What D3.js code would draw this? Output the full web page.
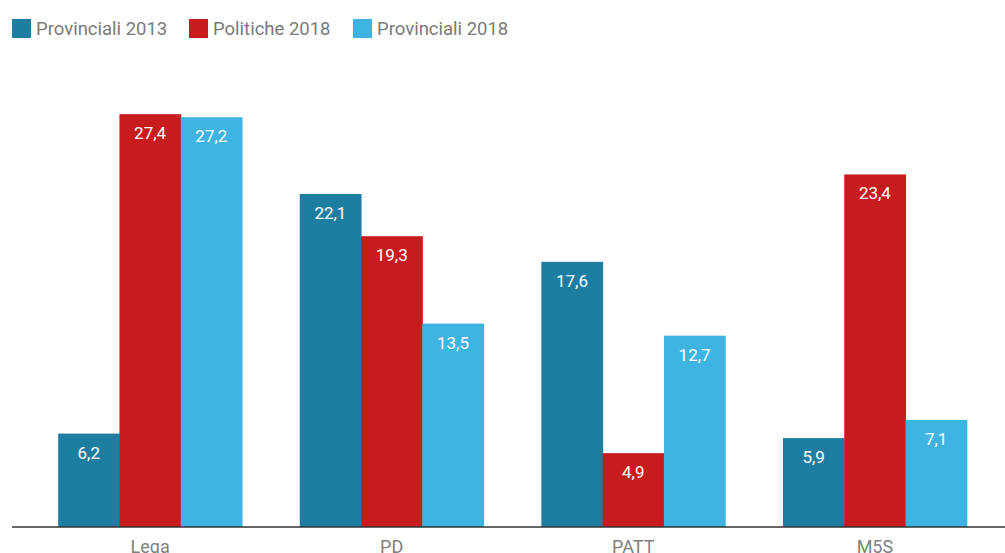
<!DOCTYPE html>
<html>
<head>
<meta charset="utf-8">
<script src="https://cdn.jsdelivr.net/npm/d3@7"></script>
<style>
  body { margin: 0; background: #fff; }
  svg { display: block; font-family: Roboto, "Open Sans", sans-serif; }
</style>
</head>
<body>
<svg id="chart"></svg>
<script>
const parties = ["Lega", "PD", "PATT", "M5S"];
const seriesNames = ["Provinciali 2013", "Politiche 2018", "Provinciali 2018"];
const provinciali2013 = [6.2, 22.1, 17.6, 5.9];
const politiche2018 = [27.4, 19.3, 4.9, 23.4];
const provinciali2018 = [27.2, 13.5, 12.7, 7.1];
const colors = ["#1e7ea1", "#c81b1e", "#3fb4e2"];

const w = 1005, h = 553;
const baseY = 527;

const svg = d3.select("#chart").attr("width", w).attr("height", h);

const series = [provinciali2013, politiche2018, provinciali2018];

const x = d3.scaleBand().domain(parties).range([34, 991]).paddingInner(0.239).paddingOuter(0.1);
const xs = d3.scaleBand().domain(seriesNames).range([0, x.bandwidth()]);
const y = d3.scaleLinear().domain([0, 30]).range([baseY, baseY - 452]);

const fmt = v => d3.format(".1f")(v).replace(".", ",");

const groups = svg.append("g").selectAll("g")
  .data(parties)
  .join("g")
  .attr("transform", d => `translate(${x(d)},0)`);

const cells = (p, i) => series.map((s, j) => ({ name: seriesNames[j], v: s[i], j }));

groups.selectAll("rect")
  .data(cells)
  .join("rect")
  .attr("x", d => xs(d.name))
  .attr("y", d => y(d.v))
  .attr("width", xs.bandwidth() + 0.5)
  .attr("height", d => baseY - y(d.v))
  .attr("fill", d => colors[d.j]);

groups.selectAll("text")
  .data(cells)
  .join("text")
  .attr("x", d => xs(d.name) + xs.bandwidth() / 2)
  .attr("y", d => y(d.v) + 25)
  .attr("text-anchor", "middle")
  .attr("fill", "#fff")
  .attr("font-size", 17)
  .attr("font-weight", 400)
  .text(d => fmt(d.v));

// axis
const axis = svg.append("g")
  .attr("transform", `translate(0,${baseY})`)
  .call(d3.axisBottom(x).tickSize(0).tickPadding(13));
axis.select(".domain").remove();
axis.selectAll("text")
  .attr("font-size", 18)
  .attr("fill", "#808080")
  .attr("font-family", "Roboto, sans-serif");
svg.append("line")
  .attr("x1", 12).attr("x2", w)
  .attr("y1", baseY).attr("y2", baseY)
  .attr("stroke", "#333").attr("stroke-width", 1.5);

// legend
const legendX = [12, 189, 353];
const legend = svg.append("g").selectAll("g")
  .data(seriesNames)
  .join("g")
  .attr("transform", (d, i) => `translate(${legendX[i]},19)`);
legend.append("rect")
  .attr("width", 19).attr("height", 19)
  .attr("fill", (d, i) => colors[i]);
legend.append("text")
  .attr("x", 24).attr("y", 16)
  .attr("font-size", 18.5)
  .attr("fill", "#7a7a7a")
  .text(d => d);
</script>
</body>
</html>
